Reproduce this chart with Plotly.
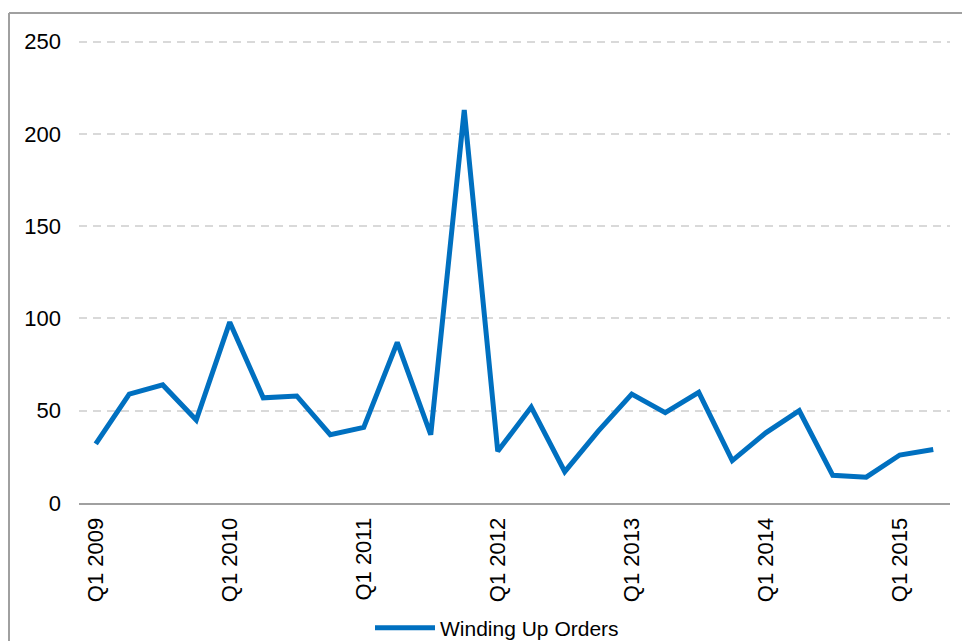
import plotly.graph_objects as go

quarters = [f"Q{q} {y}" for y in range(2009, 2016) for q in range(1, 5)][:26]
winding_up_orders = [32, 59, 64, 45, 98, 57, 58, 37, 41, 87, 37, 213,
                     28, 52, 17, 39, 59, 49, 60, 23, 38, 50, 15, 14, 26, 29]
tick_labels = [q for q in quarters if q.startswith("Q1")]
y_ticks = [0, 50, 100, 150, 200, 250]

FONT = "Liberation Sans, Arial, sans-serif"
OFF = 8  # default page body margin
W, H = 970 - OFF, 641 - OFF
L, T = 79 - OFF, 38 - OFF
pw, ph = 871, 465
R, B = W - L - pw, H - T - ph


def px_x(p):
    return (p - OFF - L) / pw


def px_y(p):
    return (T + ph - (p - OFF)) / ph


fig = go.Figure()
fig.add_trace(go.Scatter(
    x=quarters, y=winding_up_orders, mode="lines",
    name="Winding Up Orders",
    line=dict(color="#0070C0", width=5),
))

fig.update_layout(
    width=W, height=H,
    margin=dict(l=L, r=R, t=T, b=B, autoexpand=False),
    paper_bgcolor="white", plot_bgcolor="white",
    font=dict(family=FONT, size=22, color="#000000"),
    showlegend=True,
    legend=dict(orientation="h", x=px_x(497), xanchor="center",
                y=px_y(628), yanchor="middle",
                font=dict(size=21), itemwidth=60, bgcolor="rgba(0,0,0,0)"),
    xaxis=dict(
        type="category", range=[-0.5, 25.5], automargin=False,
        tickmode="array", tickvals=tick_labels, ticktext=tick_labels,
        tickangle=-90, ticks="", showgrid=False,
        showline=True, linecolor="#A0A0A0", linewidth=2,
        ticklabelstandoff=4, tickfont=dict(size=22),
        zeroline=False,
    ),
    yaxis=dict(
        range=[0, 252], tickvals=y_ticks, ticks="", automargin=False,
        showgrid=True, gridcolor="#D9D9D9", gridwidth=1.5, griddash="8px,6px",
        zeroline=False, showline=False,
        ticklabelstandoff=17, tickfont=dict(size=22),
    ),
    shapes=[
        dict(type="line", xref="paper", yref="paper",
             x0=px_x(9), x1=px_x(990), y0=px_y(13), y1=px_y(13),
             line=dict(color="#A0A0A0", width=2)),
        dict(type="line", xref="paper", yref="paper",
             x0=px_x(9), x1=px_x(9), y0=px_y(13), y1=px_y(660),
             line=dict(color="#A0A0A0", width=2)),
    ],
)

fig.write_html("out.html")
